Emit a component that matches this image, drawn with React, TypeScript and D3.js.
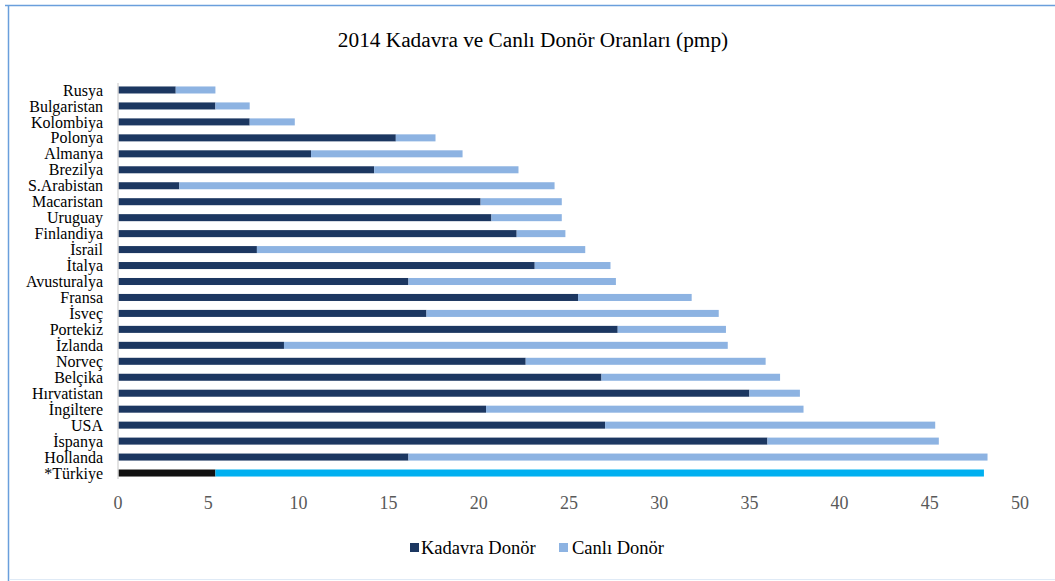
import React from "react";
import * as d3 from "d3";

// Ülkeler (yukarıdan aşağıya) ve 2014 donör oranları (pmp)
const countries = [
  "Rusya", "Bulgaristan", "Kolombiya", "Polonya", "Almanya", "Brezilya",
  "S.Arabistan", "Macaristan", "Uruguay", "Finlandiya", "İsrail", "İtalya",
  "Avusturalya", "Fransa", "İsveç", "Portekiz", "İzlanda", "Norveç",
  "Belçika", "Hırvatistan", "İngiltere", "USA", "İspanya", "Hollanda", "*Türkiye",
];
const kadavra = [
  3.2, 5.4, 7.3, 15.4, 10.7, 14.2, 3.4, 20.1, 20.7, 22.1, 7.7, 23.1,
  16.1, 25.5, 17.1, 27.7, 9.2, 22.6, 26.8, 35.0, 20.4, 27.0, 36.0, 16.1, 5.4,
];
const canli = [
  2.2, 1.9, 2.5, 2.2, 8.4, 8.0, 20.8, 4.5, 3.9, 2.7, 18.2, 4.2,
  11.5, 6.3, 16.2, 6.0, 24.6, 13.3, 9.9, 2.8, 17.6, 18.3, 9.5, 32.1, 42.6,
];
const xTicks = [0, 5, 10, 15, 20, 25, 30, 35, 40, 45, 50];
const seriesNames = ["Kadavra Donör", "Canlı Donör"];

const W = 1055;
const H = 581;
const FONT = "'Liberation Serif', 'Times New Roman', serif";
const DARK = "#1c3761";
const LIGHT = "#8db3e2";
const TR_DARK = "#111111";
const TR_LIGHT = "#00b0f0";

export default function App() {
  const x = d3.scaleLinear().domain([0, 50]).range([118, 1020]);
  const y = d3
    .scaleBand<string>()
    .domain(countries)
    .range([82, 481])
    .paddingInner(0.56)
    .paddingOuter(0.28);

  const bh = y.bandwidth();

  return (
    <svg
      width={W}
      height={H}
      viewBox={`0 0 ${W} ${H}`}
      style={{ position: "absolute", left: 0, top: 0, background: "#fff" }}
    >
      {/* çerçeve */}
      <line x1={5} x2={W} y1={5.5} y2={5.5} stroke="#6a9fdc" strokeWidth={1.5} />
      <line x1={8.5} x2={8.5} y1={5} y2={H} stroke="#6a9fdc" strokeWidth={1.5} />
      <line x1={9} x2={W} y1={579.5} y2={579.5} stroke="#dfeaf6" strokeWidth={1} />

      <text
        x={533}
        y={47}
        textAnchor="middle"
        fontFamily={FONT}
        fontSize={21.3}
        fill="#000"
      >
        2014 Kadavra ve Canlı Donör Oranları (pmp)
      </text>

      {/* çubuklar */}
      {countries.map((c, i) => {
        const isTR = c === "*Türkiye";
        const y0 = y(c)!;
        return (
          <g key={c}>
            <rect
              x={x(0)}
              y={y0}
              width={x(kadavra[i]) - x(0)}
              height={bh}
              fill={isTR ? TR_DARK : DARK}
            />
            <rect
              x={x(kadavra[i])}
              y={y0}
              width={x(kadavra[i] + canli[i]) - x(kadavra[i])}
              height={bh}
              fill={isTR ? TR_LIGHT : LIGHT}
            />
            <text
              x={103}
              y={y0 + bh / 2}
              dy="0.35em"
              textAnchor="end"
              fontFamily={FONT}
              fontSize={16}
              fill="#000"
            >
              {c}
            </text>
          </g>
        );
      })}

      {/* dikey eksen çizgisi */}
      <line x1={x(0)} x2={x(0)} y1={83} y2={479} stroke="#d9d9d9" strokeWidth={1.5} />

      {/* x ekseni etiketleri */}
      {xTicks.map((t) => (
        <text
          key={t}
          x={x(t)}
          y={509}
          textAnchor="middle"
          fontFamily={FONT}
          fontSize={18}
          fill="#595959"
        >
          {t}
        </text>
      ))}

      {/* lejant */}
      <g>
        <rect x={410} y={543} width={9} height={9} fill={DARK} />
        <text x={421} y={554} fontFamily={FONT} fontSize={18.5} fill="#000">
          {seriesNames[0]}
        </text>
        <rect x={559} y={543} width={9} height={9} fill={LIGHT} />
        <text x={572} y={554} fontFamily={FONT} fontSize={18.5} fill="#000">
          {seriesNames[1]}
        </text>
      </g>
    </svg>
  );
}
